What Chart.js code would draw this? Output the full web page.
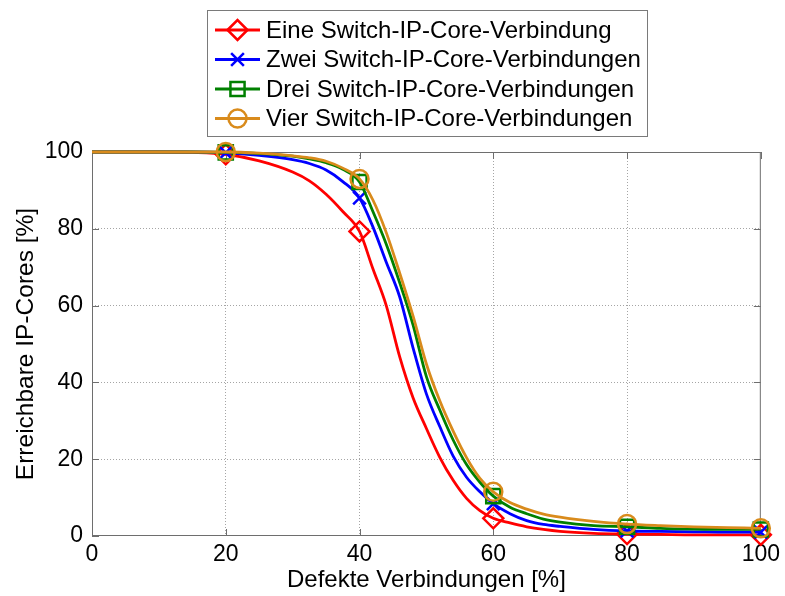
<!DOCTYPE html>
<html>
<head>
<meta charset="utf-8">
<script src="https://cdn.jsdelivr.net/npm/chart.js@4.4.1/dist/chart.umd.min.js"></script>
<style>
  html, body { margin: 0; padding: 0; background: #fff; }
  canvas { display: block; }
</style>
</head>
<body>
<canvas id="chart" width="785" height="596"></canvas>
<script>
// values
const defects = [0, 5, 10, 15, 20, 25, 30, 32.5, 35, 37.5, 40, 42, 44, 46, 48, 50, 52, 54, 56, 58, 60, 62.5, 65, 67.5, 70, 75, 80, 85, 90, 95, 100];
const eine = [100, 100, 100, 99.9, 99.4, 97.7, 94.8, 92.5, 89, 84.5, 79.3, 69.6, 60, 46.7, 36, 28, 20.5, 14.5, 9.8, 6.6, 4.6, 3.4, 2.4, 1.7, 1.2, 0.7, 0.5, 0.4, 0.3, 0.3, 0.3];
const zwei = [100, 100, 100, 100, 99.8, 99.1, 98, 97, 95.3, 92.3, 88, 80.5, 71.3, 62.3, 49, 37, 28.5, 20.8, 15.3, 11.5, 8.4, 5.8, 4.0, 3.0, 2.5, 1.7, 1.3, 1.2, 1.1, 1.0, 1.0];
const drei = [100, 100, 100, 100, 99.9, 99.6, 98.9, 98.2, 97.2, 95.5, 92.2, 84.5, 76, 66, 55, 41.5, 32.8, 25, 18.6, 14, 10.4, 7.5, 5.8, 4.4, 3.6, 2.7, 2.4, 2.0, 1.8, 1.7, 1.7];
const vier = [100, 100, 100, 100, 100, 99.7, 99, 98.5, 97.6, 95.8, 93, 87.5, 79, 68.5, 57.3, 44.8, 35.2, 27.3, 20.4, 15, 11.5, 8.7, 7, 5.7, 4.9, 3.8, 3.1, 2.7, 2.4, 2.2, 2.0];
const markerAt = [20, 40, 60, 80, 100];
const xTicks = [0, 20, 40, 60, 80, 100];
const yTicks = [0, 20, 40, 60, 80, 100];
const seriesNames = ['Eine Switch-IP-Core-Verbindung', 'Zwei Switch-IP-Core-Verbindungen', 'Drei Switch-IP-Core-Verbindungen', 'Vier Switch-IP-Core-Verbindungen'];

const FONT = 'Arial, "Liberation Sans", sans-serif';
const colors = ['#ff0000', '#0000ff', '#008000', '#d98b1c'];
const styles = ['rectRot', 'crossRot', 'rect', 'circle'];
const radii = [10, 9, 10, 9];
const values = [eine, zwei, drei, vier];

function makeDataset(i) {
    return {
        label: seriesNames[i],
        data: defects.map((x, k) => ({ x: x, y: values[i][k] })),
        order: 3 - i, // later series on top, like the original plot
        borderColor: colors[i],
        borderWidth: 2.8,
        backgroundColor: colors[i],
        pointStyle: styles[i],
        pointRadius: ctx => markerAt.includes(ctx.raw.x) ? radii[i] : 0,
        pointBorderColor: colors[i],
        pointBackgroundColor: 'rgba(0,0,0,0)',
        pointBorderWidth: 2.5,
        cubicInterpolationMode: 'monotone',
        clip: false
    };
}

// draw a marker for the legend, same shapes as the chart
function drawMarker(ctx, style, x, y, r, color) {
    ctx.save();
    ctx.strokeStyle = color;
    ctx.lineWidth = 2.5;
    ctx.beginPath();
    if (style === 'rectRot') {
        ctx.moveTo(x - r, y); ctx.lineTo(x, y - r); ctx.lineTo(x + r, y); ctx.lineTo(x, y + r); ctx.closePath();
    } else if (style === 'crossRot') {
        const d = r * Math.SQRT1_2;
        ctx.moveTo(x - d, y - d); ctx.lineTo(x + d, y + d);
        ctx.moveTo(x + d, y - d); ctx.lineTo(x - d, y + d);
    } else if (style === 'rect') {
        const d = r * Math.SQRT1_2;
        ctx.rect(x - d, y - d, 2 * d, 2 * d);
    } else {
        ctx.arc(x, y, r, 0, Math.PI * 2);
    }
    ctx.stroke();
    ctx.restore();
}

const framePlugin = {
    id: 'frame',
    beforeDatasetsDraw(chart) {
        const { ctx, chartArea: a, scales } = chart;
        ctx.save();
        ctx.strokeStyle = '#6e6e6e';
        ctx.lineWidth = 1;
        ctx.strokeRect(a.left + 0.5, a.top + 0.5, a.right - a.left - 1, a.bottom - a.top - 1);
        ctx.beginPath();
        xTicks.forEach(v => {
            const px = Math.round(scales.x.getPixelForValue(v)) + 0.5;
            ctx.moveTo(px, a.bottom); ctx.lineTo(px, a.bottom - 7);
            ctx.moveTo(px, a.top); ctx.lineTo(px, a.top + 7);
        });
        yTicks.forEach(v => {
            const py = Math.round(scales.y.getPixelForValue(v)) + 0.5;
            ctx.moveTo(a.left, py); ctx.lineTo(a.left + 7, py);
            ctx.moveTo(a.right, py); ctx.lineTo(a.right - 7, py);
        });
        ctx.stroke();
        ctx.restore();
    }
};

const legendPlugin = {
    id: 'boxLegend',
    afterDraw(chart) {
        const ctx = chart.ctx;
        ctx.save();
        ctx.fillStyle = '#fff';
        ctx.fillRect(207, 10, 441, 127);
        ctx.strokeStyle = '#7a7a7a';
        ctx.lineWidth = 1;
        ctx.strokeRect(207.5, 10.5, 440, 126);
        ctx.font = '24px ' + FONT;
        ctx.textBaseline = 'middle';
        seriesNames.forEach((name, i) => {
            const y = 30 + i * 29.5;
            ctx.strokeStyle = colors[i];
            ctx.lineWidth = 2.8;
            ctx.beginPath();
            ctx.moveTo(215, y); ctx.lineTo(260, y);
            ctx.stroke();
            drawMarker(ctx, styles[i], 237.5, y, radii[i], colors[i]);
            ctx.fillStyle = '#000';
            ctx.fillText(name, 266, y + 1);
        });
        ctx.restore();
    }
};

const gridColor = c => (c.tick && (c.tick.value === 0 || c.tick.value === 100)) ? 'rgba(0,0,0,0)' : '#a5a5a5';

new Chart(document.getElementById('chart').getContext('2d'), {
    type: 'line',
    data: { datasets: [0, 1, 2, 3].map(makeDataset) },
    options: {
        responsive: false,
        animation: false,
        devicePixelRatio: 1,
        layout: { padding: { top: 152, right: 23, left: 0, bottom: 0 } },
        plugins: { legend: { display: false }, tooltip: { enabled: false } },
        scales: {
            x: {
                type: 'linear',
                min: 0, max: 100,
                afterFit: s => { s.height = 60; },
                afterBuildTicks: s => { s.ticks = xTicks.map(v => ({ value: v })); },
                ticks: { color: '#000', font: { family: FONT, size: 23 }, padding: 5, maxRotation: 0 },
                grid: { color: gridColor, lineWidth: 1, drawTicks: false },
                border: { display: false, dash: [1, 2] },
                title: { display: true, text: 'Defekte Verbindungen [%]', color: '#000', font: { family: FONT, size: 24 }, padding: { top: 0, bottom: 1 } }
            },
            y: {
                min: 0, max: 100,
                afterFit: s => { s.width = 92; },
                afterBuildTicks: s => { s.ticks = yTicks.map(v => ({ value: v })); },
                ticks: { color: '#000', font: { family: FONT, size: 23 }, padding: 9 },
                grid: { color: gridColor, lineWidth: 1, drawTicks: false },
                border: { display: false, dash: [1, 2] },
                title: { display: true, text: 'Erreichbare IP-Cores [%]', color: '#000', font: { family: FONT, size: 24.5 }, padding: { top: 12, bottom: 0 } }
            }
        }
    },
    plugins: [framePlugin, legendPlugin]
});
</script>
</body>
</html>
